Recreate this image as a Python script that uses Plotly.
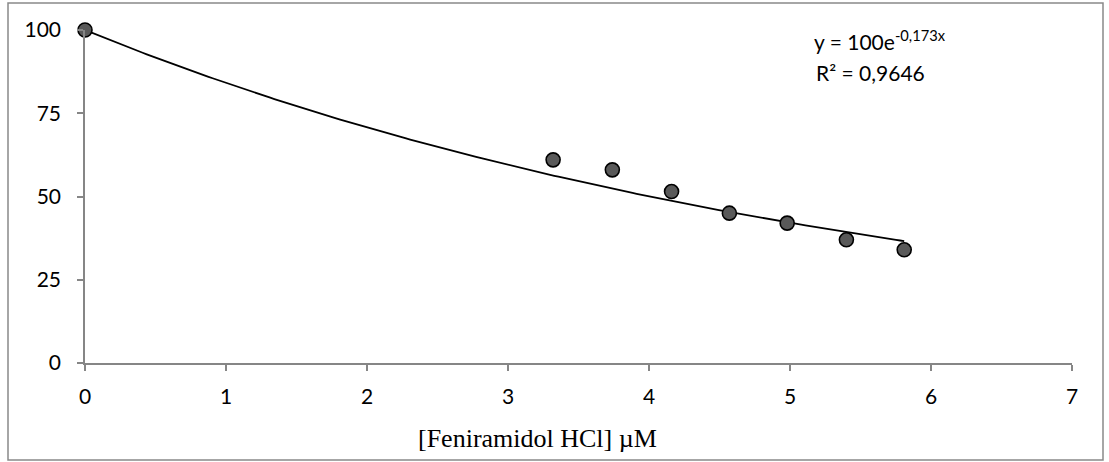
import numpy as np
import plotly.graph_objects as go

# Feniramidol HCl concentration (µM) and measured response (%)
conc_um = [0.0, 3.32, 3.74, 4.16, 4.57, 4.98, 5.40, 5.81]
response_pct = [100.0, 61.0, 58.0, 51.5, 45.0, 42.0, 37.0, 34.0]

# exponential trendline y = A * exp(k x)
fit_a = 100.0
fit_k = -0.173
fit_r2 = "0,9646"

x_ticks = [0, 1, 2, 3, 4, 5, 6, 7]
y_ticks = [0, 25, 50, 75, 100]

x_fit = np.linspace(0, max(conc_um), 200)
y_fit = fit_a * np.exp(fit_k * x_fit)

axis_grey = "#868686"
sans = "Lato, 'Open Sans', sans-serif"
tick_font = dict(family=sans, size=21, color="#000000")

fig = go.Figure()
fig.add_trace(go.Scatter(
    x=x_fit, y=y_fit, mode="lines",
    line=dict(color="#000000", width=1.8),
    hoverinfo="skip", showlegend=False,
))
fig.add_trace(go.Scatter(
    x=conc_um, y=response_pct, mode="markers",
    marker=dict(size=14, color="#595959", line=dict(color="#000000", width=1.6)),
    showlegend=False, cliponaxis=False,
))

# chart-area positions in paper units (plot area spans x 85..1072 px, y 30..363 px)
def px_x(px):
    return (px - 85) / 987

def px_y(py):
    return (363 - py) / 333

fit_k_text = str(fit_k).replace(".", ",")

fig.update_layout(
    width=1109, height=462,
    margin=dict(l=85, r=37, t=30, b=99),
    paper_bgcolor="#ffffff", plot_bgcolor="#ffffff",
    xaxis=dict(
        range=[0, 7], tickvals=x_ticks, ticktext=[str(v) for v in x_ticks],
        showgrid=False, zeroline=False, showline=True, linecolor=axis_grey, linewidth=1.5,
        ticks="outside", ticklen=6, tickcolor=axis_grey, tickwidth=1.5,
        tickfont=tick_font, ticklabelstandoff=8,
    ),
    yaxis=dict(
        range=[0, 100], tickvals=y_ticks, ticktext=[str(v) for v in y_ticks],
        showgrid=False, zeroline=False, showline=True, linecolor=axis_grey, linewidth=1.5,
        ticks="outside", ticklen=6, tickcolor=axis_grey, tickwidth=1.5,
        tickfont=tick_font, ticklabelstandoff=12,
    ),
    shapes=[dict(
        type="rect", xref="paper", yref="paper",
        x0=px_x(8), x1=px_x(1103), y0=px_y(460), y1=px_y(3),
        line=dict(color="#898989", width=1.5), fillcolor="rgba(0,0,0,0)", layer="below",
    )],
    annotations=[
        dict(
            text="[Feniramidol HCl] \u00b5M", xref="paper", yref="paper",
            x=px_x(537), y=px_y(438), xanchor="center", yanchor="middle",
            showarrow=False,
            font=dict(family="'Liberation Serif', 'Times New Roman', serif", size=26, color="#000000"),
        ),
        dict(
            text=f"y = {fit_a:.0f}e<sup style='font-size:16px'>{fit_k_text}x</sup>",
            xref="paper", yref="paper",
            x=px_x(880), y=px_y(40), xanchor="center", yanchor="middle",
            showarrow=False, font=dict(family=sans, size=21, color="#000000"),
        ),
        dict(
            text=f"R\u00b2 = {fit_r2}", xref="paper", yref="paper",
            x=px_x(870), y=px_y(72), xanchor="center", yanchor="middle",
            showarrow=False, font=dict(family=sans, size=21, color="#000000"),
        ),
    ],
)

fig.write_html("out.html")
